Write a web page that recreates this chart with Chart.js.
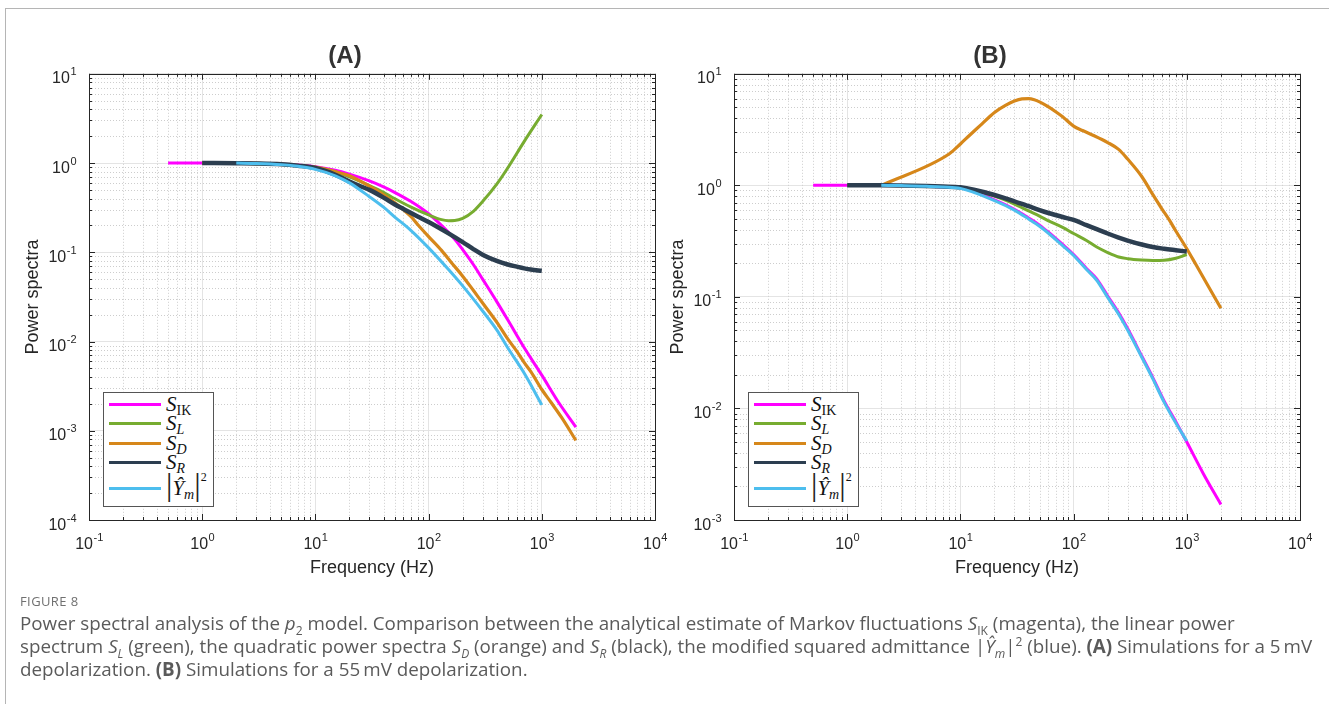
<!DOCTYPE html>
<html>
<head>
<meta charset="utf-8">
<script src="https://cdn.jsdelivr.net/npm/chart.js@4.4.1/dist/chart.umd.min.js"></script>
<style>
  html, body { margin: 0; padding: 0; background: #fff; }
  body { width: 1329px; height: 704px; position: relative; overflow: hidden; font-family: 'Liberation Sans', Arial, sans-serif; }
  #frame { position: absolute; left: 5px; top: 8px; width: 1400px; height: 800px; border: 1px solid #b5b5b5; }
  .panel { position: absolute; top: 0; width: 690px; height: 600px; }
  #panelA { left: 0; }
  #panelB { left: 645px; }
  .legend { position: absolute; background: #fff; border: 1px solid #555; padding: 1.5px 6px 1.5px 5px; font-family: 'Liberation Serif', 'DejaVu Serif', serif; color: #111; }
  .legend .row { display: flex; align-items: center; height: 19.5px; white-space: nowrap; }
  .legend .row.tall { height: 32px; }
  .legend .swatch { width: 52px; height: 3px; margin-right: 5px; }
  .legend .lab { font-size: 21px; font-style: italic; }
  .legend sub { font-size: 14px; vertical-align: -4px; line-height: 0; }
  .legend .up { font-style: normal; }
  .legend .bar { font-style: normal; font-size: 32px; line-height: 0; color: #222; }
  .legend sup { font-size: 12px; font-style: normal; vertical-align: 14px; line-height: 0; }
  #caption { position: absolute; left: 20px; top: 590px; font-family: 'Open Sans', Lato, sans-serif; color: #5a5a5a; }
  #caption .fig { font-size: 13px; letter-spacing: 0.4px; color: #707070; height: 22px; line-height: 22px; }
  #caption p { margin: 0; font-size: 18.8px; line-height: 23px; white-space: nowrap; }
  #caption sub { font-size: 12px; line-height: 0; }
  #caption sup { font-size: 12px; line-height: 0; }
</style>
</head>
<body>
<div id="frame"></div>
<div class="panel" id="panelA"><canvas id="chartA" width="690" height="600"></canvas></div>
<div class="panel" id="panelB"><canvas id="chartB" width="690" height="600"></canvas></div>
<div id="caption">
  <div class="fig">FIGURE 8</div>
  <p>Power spectral analysis of the <i>p</i><sub>2</sub> model. Comparison between the analytical estimate of Markov fluctuations <i>S</i><sub>IK</sub> (magenta), the linear power<br>spectrum <i>S<sub>L</sub></i> (green), the quadratic power spectra <i>S<sub>D</sub></i> (orange) and <i>S<sub>R</sub></i> (black), the modified squared admittance |<i>Ŷ<sub>m</sub></i>|<sup>2</sup> (blue). <b>(A)</b> Simulations for a 5&#8201;mV<br>depolarization. <b>(B)</b> Simulations for a 55&#8201;mV depolarization.</p>
</div>
<script>
// tick labels: base 10 with these exponents
const xDecades = [-1, 0, 1, 2, 3, 4];
const xTickExp = ['-1', '0', '1', '2', '3', '4'];
const yDecadesA = [-4, -3, -2, -1, 0, 1];
const yTickExpA = ['-4', '-3', '-2', '-1', '0', '1'];
const yDecadesB = [-3, -2, -1, 0, 1];
const yTickExpB = ['-3', '-2', '-1', '0', '1'];

// series names (legend), colours
const seriesKeys = ['IK', 'L', 'D', 'R', 'Y'];
const seriesColors = ['#ff00ff', '#77ac30', '#d6871a', '#2c3e50', '#4dbeee'];
const seriesWidths = [3, 3, 3.2, 4.5, 3];

// panel A, 5 mV: frequency (Hz) / power
const fA_IK = [0.5, 1, 2, 3, 5, 7, 10, 15, 20, 30, 40, 50, 70, 100, 130, 170, 200, 250, 300, 400, 500, 700, 1000, 1400, 2000];
const sA_IK = [1, 1, 0.995, 0.99, 0.97, 0.95, 0.91, 0.83, 0.75, 0.63, 0.54, 0.47, 0.37, 0.27, 0.2, 0.14, 0.107, 0.072, 0.05, 0.028, 0.0175, 0.0085, 0.0042, 0.0021, 0.0011];
const fA_L = [1, 2, 3, 5, 7, 10, 15, 20, 30, 40, 50, 70, 100, 130, 150, 170, 200, 250, 300, 400, 500, 700, 1000];
const sA_L = [1, 0.995, 0.985, 0.96, 0.93, 0.89, 0.8, 0.7, 0.56, 0.47, 0.4, 0.32, 0.262, 0.232, 0.226, 0.227, 0.24, 0.29, 0.37, 0.58, 0.88, 1.75, 3.5];
const fA_D = [1, 2, 3, 5, 7, 10, 15, 20, 30, 40, 50, 60, 70, 80, 100, 130, 160, 200, 250, 300, 400, 500, 600, 700, 800, 1000, 1200, 1500, 2000];
const sA_D = [1, 0.995, 0.99, 0.97, 0.94, 0.9, 0.8, 0.72, 0.55, 0.44, 0.36, 0.3, 0.25, 0.205, 0.15, 0.105, 0.076, 0.054, 0.037, 0.027, 0.0165, 0.0107, 0.0078, 0.0058, 0.0046, 0.0029, 0.0021, 0.0014, 0.00078];
const fA_R = [1, 2, 3, 5, 7, 10, 15, 20, 25, 30, 40, 50, 60, 70, 80, 100, 120, 150, 200, 250, 300, 400, 500, 600, 700, 800, 1000];
const sA_R = [1, 0.995, 0.99, 0.97, 0.935, 0.88, 0.74, 0.62, 0.55, 0.5, 0.41, 0.345, 0.305, 0.275, 0.252, 0.218, 0.192, 0.163, 0.13, 0.108, 0.094, 0.08, 0.073, 0.069, 0.066, 0.064, 0.062];
const fA_Y = [2, 3, 5, 7, 10, 15, 20, 30, 40, 50, 70, 100, 150, 200, 300, 400, 500, 700, 1000];
const sA_Y = [1, 0.99, 0.96, 0.92, 0.85, 0.72, 0.6, 0.42, 0.32, 0.25, 0.175, 0.112, 0.064, 0.042, 0.022, 0.0135, 0.0085, 0.0044, 0.00195];

// panel B, 55 mV
const fB_IK = [0.5, 1, 2, 3, 5, 7, 10, 20, 30, 40, 50, 60, 80, 100, 130, 160, 200, 250, 300, 400, 500, 630, 800, 1000, 1400, 2000];
const sB_IK = [1, 1, 0.998, 0.995, 0.985, 0.97, 0.955, 0.74, 0.61, 0.51, 0.44, 0.38, 0.295, 0.24, 0.18, 0.145, 0.102, 0.072, 0.052, 0.0295, 0.019, 0.0117, 0.0076, 0.005, 0.0026, 0.00138];
const fB_L = [1, 2, 3, 5, 7, 10, 20, 30, 40, 50, 60, 80, 100, 130, 160, 200, 250, 300, 400, 500, 630, 800, 1000];
const sB_L = [1, 0.998, 0.995, 0.985, 0.975, 0.96, 0.8, 0.68, 0.59, 0.53, 0.48, 0.42, 0.37, 0.32, 0.28, 0.25, 0.228, 0.22, 0.214, 0.212, 0.213, 0.222, 0.24];
const fB_D = [2, 8, 10, 12, 15, 18, 20, 25, 30, 35, 40, 45, 50, 60, 70, 80, 100, 120, 150, 200, 250, 300, 400, 500, 600, 700, 800, 1000, 1200, 1500, 2000];
const sB_D = [1, 1.92, 2.35, 2.8, 3.45, 4.1, 4.5, 5.2, 5.7, 5.95, 5.98, 5.85, 5.6, 5.05, 4.55, 4.12, 3.4, 3.1, 2.8, 2.42, 2.1, 1.72, 1.2, 0.83, 0.62, 0.49, 0.39, 0.27, 0.196, 0.132, 0.079];
const fB_R = [1, 2, 3, 5, 7, 10, 20, 30, 40, 50, 60, 80, 100, 130, 160, 200, 250, 300, 400, 500, 630, 800, 1000];
const sB_R = [1, 1, 0.995, 0.985, 0.975, 0.96, 0.82, 0.72, 0.65, 0.6, 0.565, 0.52, 0.49, 0.44, 0.405, 0.37, 0.34, 0.32, 0.295, 0.28, 0.27, 0.262, 0.255];
const fB_Y = [2, 3, 5, 7, 10, 20, 30, 40, 50, 60, 80, 100, 130, 160, 200, 250, 300, 400, 500, 630, 800, 1000];
const sB_Y = [1, 0.995, 0.983, 0.965, 0.94, 0.73, 0.6, 0.5, 0.43, 0.372, 0.288, 0.235, 0.176, 0.141, 0.099, 0.07, 0.0505, 0.0288, 0.0185, 0.0114, 0.0074, 0.0051];

const AXIS_COLOR = '#262626';
const LABEL_FAMILY = "'Liberation Sans', Arial, sans-serif";

const zip = (xs, ys) => xs.map((x, i) => ({ x, y: ys[i] }));
const isDecade = v => Math.abs(Math.log10(v) - Math.round(Math.log10(v))) < 1e-6;

function logTicks(d0, d1) {
  const out = [];
  for (let k = d0; k <= d1; k++) {
    for (let m = 1; m <= 9; m++) {
      if (k === d1 && m > 1) break;
      out.push(m * Math.pow(10, k));
    }
  }
  return out;
}

// draws "10" with a raised exponent; anchor is 'center' (x axis) or 'right' (y axis)
function drawPow(ctx, exp, x, baseline, anchor) {
  ctx.font = '16px ' + LABEL_FAMILY;
  const wb = ctx.measureText('10').width;
  ctx.font = '11px ' + LABEL_FAMILY;
  const we = ctx.measureText(exp).width;
  const x0 = anchor === 'center' ? x - (wb + we) / 2 : x - wb - we;
  ctx.textAlign = 'left';
  ctx.textBaseline = 'alphabetic';
  ctx.font = '16px ' + LABEL_FAMILY;
  ctx.fillText('10', x0, baseline);
  ctx.font = '11px ' + LABEL_FAMILY;
  ctx.fillText(exp, x0 + wb + 0.5, baseline - 8);
}

// matlab-ish box: dotted minor grid under the data, inward ticks, frame and labels on top
const matlabAxes = {
  id: 'matlabAxes',
  beforeDatasetsDraw(chart) {
    const { ctx, chartArea: a, scales } = chart;
    ctx.save();
    ctx.strokeStyle = '#cdcdcd';
    ctx.lineWidth = 1;
    ctx.setLineDash([1, 2]);
    scales.x.ticks.forEach(t => {
      if (isDecade(t.value)) return;
      const px = Math.round(scales.x.getPixelForValue(t.value)) + 0.5;
      ctx.beginPath(); ctx.moveTo(px, a.top); ctx.lineTo(px, a.bottom); ctx.stroke();
    });
    scales.y.ticks.forEach(t => {
      if (isDecade(t.value)) return;
      const py = Math.round(scales.y.getPixelForValue(t.value)) + 0.5;
      ctx.beginPath(); ctx.moveTo(a.left, py); ctx.lineTo(a.right, py); ctx.stroke();
    });
    ctx.restore();
  },
  afterDatasetsDraw(chart, args, opts) {
    const { ctx, chartArea: a, scales } = chart;
    ctx.save();
    ctx.strokeStyle = AXIS_COLOR;
    ctx.lineWidth = 1;
    scales.x.ticks.forEach(t => {
      const len = isDecade(t.value) ? 6 : 3;
      const px = Math.round(scales.x.getPixelForValue(t.value)) + 0.5;
      ctx.beginPath();
      ctx.moveTo(px, a.bottom); ctx.lineTo(px, a.bottom - len);
      ctx.moveTo(px, a.top); ctx.lineTo(px, a.top + len);
      ctx.stroke();
    });
    scales.y.ticks.forEach(t => {
      const len = isDecade(t.value) ? 6 : 3;
      const py = Math.round(scales.y.getPixelForValue(t.value)) + 0.5;
      ctx.beginPath();
      ctx.moveTo(a.left, py); ctx.lineTo(a.left + len, py);
      ctx.moveTo(a.right, py); ctx.lineTo(a.right - len, py);
      ctx.stroke();
    });
    ctx.strokeRect(Math.round(a.left) + 0.5, Math.round(a.top) + 0.5, Math.round(a.width), Math.round(a.height));

    ctx.fillStyle = AXIS_COLOR;
    opts.xDecades.forEach((d, i) => {
      drawPow(ctx, opts.xExp[i], scales.x.getPixelForValue(Math.pow(10, d)), a.bottom + 29, 'center');
    });
    opts.yDecades.forEach((d, i) => {
      drawPow(ctx, opts.yExp[i], a.left - 13, scales.y.getPixelForValue(Math.pow(10, d)) + 9.5, 'right');
    });
    ctx.restore();
  }
};

function makeAxis(d0, d1, title, isX) {
  const ticks = logTicks(d0, d1);
  return {
    type: 'logarithmic',
    position: isX ? 'bottom' : 'left',
    min: Math.pow(10, d0),
    max: Math.pow(10, d1),
    afterBuildTicks: axis => { axis.ticks = ticks.map(v => ({ value: v })); },
    afterFit: axis => { if (isX) axis.height = 80; else axis.width = 54; },
    border: { display: false },
    grid: {
      drawTicks: false,
      color: c => (c.tick && isDecade(c.tick.value)) ? '#e4e4e4' : 'rgba(0,0,0,0)',
    },
    ticks: { display: false, autoSkip: false },
    title: {
      display: true,
      text: title,
      color: AXIS_COLOR,
      font: { family: LABEL_FAMILY, size: 18 },
      padding: isX ? { top: 0, bottom: 21 } : { top: -13, bottom: 0 },
    },
  };
}

function buildChart(canvasId, titleText, freqs, spectra, yd0, yDecades, yExp) {
  const datasets = seriesKeys.map((k, i) => ({
    label: k,
    data: zip(freqs[i], spectra[i]),
    showLine: true,
    borderColor: seriesColors[i],
    backgroundColor: seriesColors[i],
    borderWidth: seriesWidths[i],
    pointRadius: 0,
    cubicInterpolationMode: 'monotone',
    order: 5 - i,
  }));
  return new Chart(document.getElementById(canvasId), {
    type: 'scatter',
    data: { datasets },
    options: {
      responsive: false,
      animation: false,
      layout: { padding: { left: 35, right: 35, top: 42, bottom: 0 } },
      plugins: {
        legend: { display: false },
        tooltip: { enabled: false },
        title: {
          display: true,
          text: titleText,
          color: '#333',
          font: { family: LABEL_FAMILY, size: 24, weight: 'bold' },
          padding: { top: 0, bottom: 3 },
        },
        matlabAxes: { xDecades, xExp: xTickExp, yDecades, yExp },
      },
      scales: {
        x: makeAxis(-1, 4, 'Frequency (Hz)', true),
        y: makeAxis(yd0, 1, 'Power spectra', false),
      },
    },
    plugins: [matlabAxes],
  });
}

// legend with sub/superscripts, html
const legendLabels = [
  '<span class="lab">S<sub class="up">IK</sub></span>',
  '<span class="lab">S<sub>L</sub></span>',
  '<span class="lab">S<sub>D</sub></span>',
  '<span class="lab">S<sub>R</sub></span>',
  '<span class="lab"><span class="bar">|</span>Ŷ<sub>m</sub><span class="bar">|</span><sup>2</sup></span>',
];

function buildLegend(chart, panelId) {
  const a = chart.chartArea;
  const box = document.createElement('div');
  box.className = 'legend';
  box.style.left = (a.left + 14) + 'px';
  box.style.bottom = (600 - a.bottom + 13) + 'px';
  chart.data.datasets.forEach((ds, i) => {
    const row = document.createElement('div');
    row.className = 'row' + (i === 4 ? ' tall' : '');
    row.innerHTML = `<div class="swatch" style="background:${ds.borderColor}"></div>${legendLabels[i]}`;
    box.appendChild(row);
  });
  document.getElementById(panelId).appendChild(box);
}

const chartA = buildChart('chartA', '(A)',
  [fA_IK, fA_L, fA_D, fA_R, fA_Y], [sA_IK, sA_L, sA_D, sA_R, sA_Y], -4, yDecadesA, yTickExpA);
const chartB = buildChart('chartB', '(B)',
  [fB_IK, fB_L, fB_D, fB_R, fB_Y], [sB_IK, sB_L, sB_D, sB_R, sB_Y], -3, yDecadesB, yTickExpB);
buildLegend(chartA, 'panelA');
buildLegend(chartB, 'panelB');
</script>
</body>
</html>
